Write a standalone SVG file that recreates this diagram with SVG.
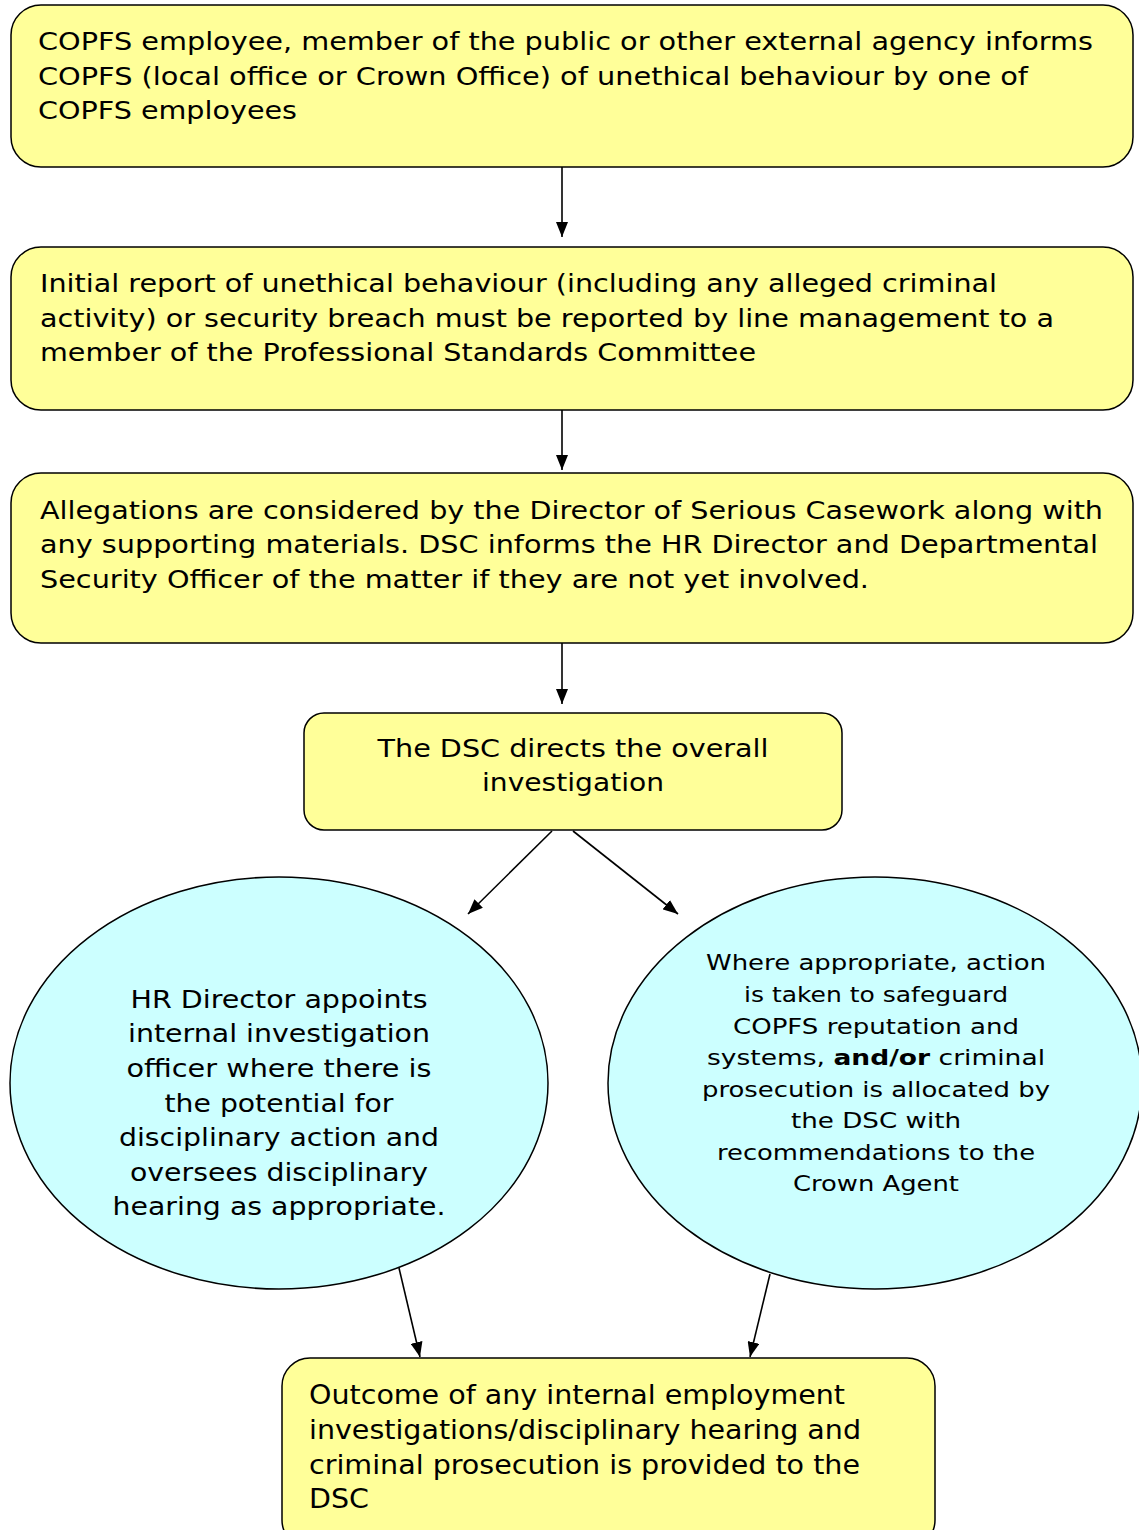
<svg xmlns="http://www.w3.org/2000/svg" width="1139" height="1530" viewBox="0 0 1139 1530">
<style>
.box{fill:#FFFF99;stroke:#000;stroke-width:1.5}
.ell{fill:#CCFFFF;stroke:#000;stroke-width:1.5}
.t{font-family:"DejaVu Sans","Verdana",sans-serif;font-size:25px;fill:#000}
.tc{font-family:"DejaVu Sans","Verdana",sans-serif;font-size:25px;fill:#000;text-anchor:middle}
.ts{font-family:"DejaVu Sans","Verdana",sans-serif;font-size:22px;fill:#000;text-anchor:middle}
.tn{font-family:"DejaVu Sans Condensed","DejaVu Sans",sans-serif;font-size:26px;fill:#000}
.c{stroke:#000;stroke-width:1.6;fill:none;marker-end:url(#ah)}
</style>
<defs>
<marker id="ah" viewBox="0 0 15 12" refX="15" refY="6" markerWidth="15" markerHeight="12" markerUnits="userSpaceOnUse" orient="auto">
<path d="M0,0 L15,6 L0,12 z" fill="#000"/>
</marker>
</defs>
<rect width="1139" height="1530" fill="#fff"/>
<g id="n1">
<rect class="box" x="11" y="5" width="1122" height="162" rx="30"/>
<text class="t" x="38" y="50" textLength="1055" lengthAdjust="spacingAndGlyphs">COPFS employee, member of the public or other external agency informs</text>
<text class="t" x="38" y="85" textLength="990" lengthAdjust="spacingAndGlyphs">COPFS (local office or Crown Office) of unethical behaviour by one of</text>
<text class="t" x="38" y="119" textLength="259" lengthAdjust="spacingAndGlyphs">COPFS employees</text>
</g>
<g id="n2">
<rect class="box" x="11" y="247" width="1122" height="163" rx="30"/>
<text class="t" x="40" y="292" textLength="957" lengthAdjust="spacingAndGlyphs">Initial report of unethical behaviour (including any alleged criminal</text>
<text class="t" x="40" y="327" textLength="1014" lengthAdjust="spacingAndGlyphs">activity) or security breach must be reported by line management to a</text>
<text class="t" x="40" y="361" textLength="716" lengthAdjust="spacingAndGlyphs">member of the Professional Standards Committee</text>
</g>
<g id="n3">
<rect class="box" x="11" y="473" width="1122" height="170" rx="30"/>
<text class="t" x="40" y="519" textLength="1063" lengthAdjust="spacingAndGlyphs">Allegations are considered by the Director of Serious Casework along with</text>
<text class="t" x="40" y="553" textLength="1058" lengthAdjust="spacingAndGlyphs">any supporting materials. DSC informs the HR Director and Departmental</text>
<text class="t" x="40" y="588" textLength="829" lengthAdjust="spacingAndGlyphs">Security Officer of the matter if they are not yet involved.</text>
</g>
<g id="n4">
<rect class="box" x="304" y="713" width="538" height="117" rx="20"/>
<text class="tc" x="573" y="757" textLength="391" lengthAdjust="spacingAndGlyphs">The DSC directs the overall</text>
<text class="tc" x="573" y="791" textLength="182" lengthAdjust="spacingAndGlyphs">investigation</text>
</g>
<g id="n5">
<ellipse class="ell" cx="279" cy="1083" rx="269" ry="206"/>
<text class="tc" x="279" y="1008" textLength="297" lengthAdjust="spacingAndGlyphs">HR Director appoints</text>
<text class="tc" x="279" y="1042" textLength="302" lengthAdjust="spacingAndGlyphs">internal investigation</text>
<text class="tc" x="279" y="1077" textLength="305" lengthAdjust="spacingAndGlyphs">officer where there is</text>
<text class="tc" x="279" y="1112" textLength="229" lengthAdjust="spacingAndGlyphs">the potential for</text>
<text class="tc" x="279" y="1146" textLength="320" lengthAdjust="spacingAndGlyphs">disciplinary action and</text>
<text class="tc" x="279" y="1181" textLength="298" lengthAdjust="spacingAndGlyphs">oversees disciplinary</text>
<text class="tc" x="279" y="1215" textLength="333" lengthAdjust="spacingAndGlyphs">hearing as appropriate.</text>
</g>
<g id="n6">
<ellipse class="ell" cx="875" cy="1083" rx="267" ry="206"/>
<text class="ts" x="876" y="970" textLength="340" lengthAdjust="spacingAndGlyphs">Where appropriate, action</text>
<text class="ts" x="876" y="1002" textLength="264" lengthAdjust="spacingAndGlyphs">is taken to safeguard</text>
<text class="ts" x="876" y="1034" textLength="286" lengthAdjust="spacingAndGlyphs">COPFS reputation and</text>
<text class="ts" x="876" y="1065" textLength="338" lengthAdjust="spacingAndGlyphs">systems, <tspan font-weight="bold">and/or</tspan> criminal</text>
<text class="ts" x="876" y="1097" textLength="348" lengthAdjust="spacingAndGlyphs">prosecution is allocated by</text>
<text class="ts" x="876" y="1128" textLength="170" lengthAdjust="spacingAndGlyphs">the DSC with</text>
<text class="ts" x="876" y="1160" textLength="318" lengthAdjust="spacingAndGlyphs">recommendations to the</text>
<text class="ts" x="876" y="1191" textLength="166" lengthAdjust="spacingAndGlyphs">Crown Agent</text>
</g>
<g id="n7">
<rect class="box" x="282" y="1358" width="653" height="190" rx="28"/>
<text class="tn" x="309" y="1404" textLength="536" lengthAdjust="spacingAndGlyphs">Outcome of any internal employment</text>
<text class="tn" x="309" y="1439" textLength="552" lengthAdjust="spacingAndGlyphs">investigations/disciplinary hearing and</text>
<text class="tn" x="309" y="1474" textLength="551" lengthAdjust="spacingAndGlyphs">criminal prosecution is provided to the</text>
<text class="tn" x="309" y="1508" textLength="60" lengthAdjust="spacingAndGlyphs">DSC</text>
</g>
<g id="connectors">
<line class="c" x1="562" y1="167" x2="562" y2="237"/>
<line class="c" x1="562" y1="410" x2="562" y2="470"/>
<line class="c" x1="562" y1="643" x2="562" y2="704"/>
<line class="c" x1="552" y1="831" x2="468" y2="914"/>
<line class="c" x1="573" y1="831" x2="678" y2="914"/>
<line class="c" x1="399" y1="1268" x2="420" y2="1357"/>
<line class="c" x1="770" y1="1274" x2="750" y2="1357"/>
</g>
</svg>
